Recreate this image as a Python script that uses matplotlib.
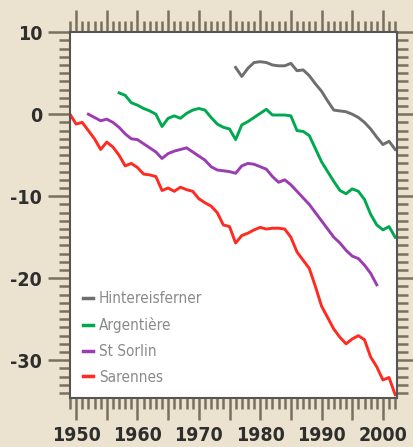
import matplotlib
matplotlib.use("Agg")
import matplotlib.pyplot as plt
from matplotlib.ticker import MultipleLocator

plt.rcParams["axes.unicode_minus"] = False

# cumulative mass balance (m w.e.)
sar_years = list(range(1949, 2003))
sarennes = [0.0, -1.2, -1.0, -2.0, -3.0, -4.3, -3.4, -4.0, -5.0, -6.3,
            -6.0, -6.5, -7.3, -7.4, -7.6, -9.3, -9.0, -9.4, -8.9, -9.2,
            -9.4, -10.3, -10.8, -11.2, -12.0, -13.5, -13.7, -15.7, -14.8, -14.5,
            -14.1, -13.8, -14.0, -13.9, -13.9, -14.0, -15.0, -16.8, -17.8, -18.8,
            -21.0, -23.4, -24.8, -26.2, -27.2, -28.0, -27.4, -27.0, -27.5, -29.6,
            -30.8, -32.4, -32.1, -34.2]

sor_years = list(range(1952, 2000))
st_sorlin = [0.0, -0.4, -0.8, -0.6, -1.0, -1.6, -2.4, -3.0, -3.1, -3.6,
             -4.1, -4.6, -5.4, -4.8, -4.5, -4.3, -4.1, -4.6, -5.1, -5.6,
             -6.4, -6.8, -6.9, -7.0, -7.2, -6.3, -6.0, -6.1, -6.4, -6.7,
             -7.6, -8.3, -8.0, -8.6, -9.4, -10.2, -11.0, -12.0, -13.0, -14.0,
             -15.0, -15.7, -16.6, -17.3, -17.6, -18.4, -19.4, -20.8]

arg_years = list(range(1957, 2003))
argentiere = [2.6, 2.3, 1.4, 1.1, 0.7, 0.4, 0.0, -1.5, -0.5, -0.2,
              -0.5, 0.1, 0.5, 0.7, 0.5, -0.4, -1.2, -1.6, -1.8, -3.1,
              -1.3, -0.9, -0.4, 0.1, 0.6, -0.1, -0.1, -0.1, -0.2, -2.0,
              -2.1, -2.6, -4.2, -5.8, -7.0, -8.2, -9.3, -9.7, -9.1, -9.4,
              -10.4, -12.2, -13.5, -14.1, -13.7, -15.0]

hef_years = list(range(1976, 2003))
hintereis = [5.7, 4.6, 5.6, 6.3, 6.4, 6.3, 6.0, 5.9, 5.9, 6.2,
             5.3, 5.4, 4.7, 3.7, 2.8, 1.6, 0.5, 0.4, 0.3, 0.0,
             -0.4, -1.0, -1.8, -2.8, -3.7, -3.3, -4.3]

names = ["Hintereisferner", "Argentière", "St Sorlin", "Sarennes"]
colors = ["#6e6e6e", "#00a94f", "#9a3db3", "#ff2a20"]

bg = "#ebe3cf"
tickc = "#7a705f"

fig = plt.figure(figsize=(4.14, 4.47), dpi=100, facecolor=bg)
ax = fig.add_axes([0.169, 0.1096, 0.79, 0.8184])

series = [(hef_years, hintereis), (arg_years, argentiere),
          (sor_years, st_sorlin), (sar_years, sarennes)]
for (x, y), n, c in zip(series, names, colors):
    ax.plot(x, y, color=c, lw=2.1, label=n, solid_joinstyle="round")

ax.set_xlim(1949, 2002.3)
ax.set_ylim(-34.6, 10)
ax.xaxis.set_minor_locator(MultipleLocator(1))
ax.yaxis.set_major_locator(MultipleLocator(10))
ax.yaxis.set_minor_locator(MultipleLocator(1))
ax.set_xticks([1950, 1955, 1960, 1965, 1970, 1975, 1980, 1985, 1990, 1995, 2000])
ax.set_xticklabels(["1950", "", "1960", "", "1970", "", "1980", "", "1990", "", "2000"])

ax.tick_params(which="both", direction="out", top=True, right=True,
               color=tickc, width=1.8)
ax.tick_params(which="major", length=16, pad=4)
ax.tick_params(which="minor", length=8)
ax.tick_params(axis="x", which="major", pad=4)
for lab in ax.get_xticklabels() + ax.get_yticklabels():
    lab.set_family("DejaVu Sans")
    lab.set_fontstretch("condensed")
    lab.set_fontweight("bold")
    lab.set_fontsize(14)
    lab.set_color("#2e2e2e")

for s in ax.spines.values():
    s.set_color("#555555")
    s.set_linewidth(1.5)

leg = ax.legend(loc="lower left", bbox_to_anchor=(0.02, 0.02), borderaxespad=0,
                frameon=False, handlelength=0.65, handletextpad=0.4,
                labelspacing=0.7,
                prop={"family": "DejaVu Sans", "stretch": "condensed", "size": 11})
for t in leg.get_texts():
    t.set_color("#8a8a8a")
for h in leg.get_lines():
    h.set_linewidth(2.5)

fig.savefig("out.png", dpi=100, facecolor=bg)
